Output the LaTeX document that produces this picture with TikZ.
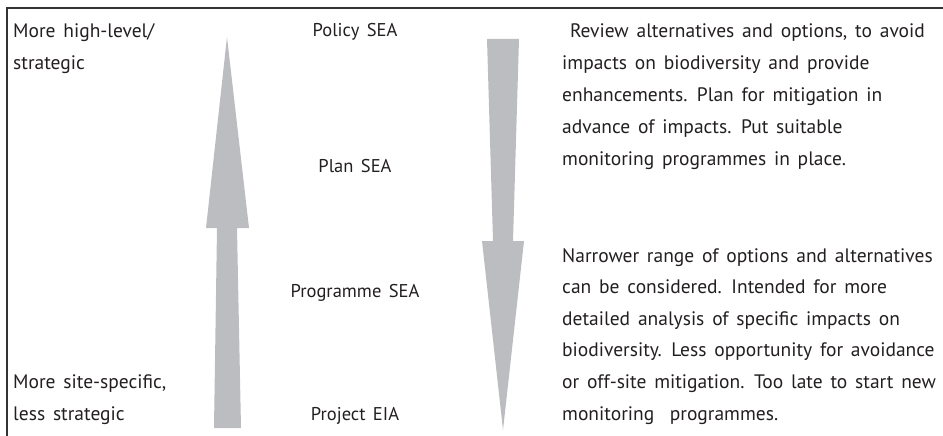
\documentclass[tikz,border=0pt]{standalone}
\usepackage{fontspec}
\setmainfont{PT Sans}[WordSpace=1.5]
\begin{document}
\begin{tikzpicture}[x=1pt,y=-1pt,
  lbl/.style={anchor=base west,inner sep=0pt,align=left,
    font=\fontsize{19.5}{32}\selectfont},
  mid/.style={anchor=base,inner sep=0pt,font=\fontsize{18.5}{20}\selectfont},
  bigarrow/.style={fill=arrowgray,draw=none},
  frame/.style={draw=framegray,line width=1.3pt}]
\definecolor{arrowgray}{HTML}{BCBDC0}
\definecolor{framegray}{HTML}{333333}
\definecolor{inkgray}{HTML}{231F20}
\useasboundingbox (0,0) rectangle (943,436);
% frame: top rule and left rule
\coordinate (fl) at (7,436);
\coordinate (fc) at (7,8);
\coordinate (fr) at (943,8);
\draw[frame] (fl) -- (fc) -- (fr);
% upward arrow
\fill[bigarrow] (214,428) -- (217,228) -- (206,228) -- (227,37)
  -- (249,228) -- (237,228) -- (241,428) -- cycle;
% downward arrow
\fill[bigarrow] (487,39) -- (519,39) -- (513,241) -- (524,241)
  -- (503,430) -- (482,241) -- (493,241) -- cycle;
\begin{scope}[every node/.append style={text=inkgray}]
% left column (anchored at the baseline of the last line)
\node[lbl] (top) at (13,70) {More high-level/\\strategic};
\node[lbl] (bot) at (13,420) {More site-specific,\\less strategic};
% middle column
\node[mid] (policy) at (355,37) {Policy SEA};
\node[mid] (plan) at (355,172) {Plan SEA};
\node[mid] (programme) at (355,297) {Programme SEA};
\node[mid] (project) at (355,420) {Project EIA};
% right column
\node[lbl] (early) at (562,165) {\ Review alternatives and options, to avoid\\impacts on biodiversity and provide\\enhancements. Plan for mitigation in\\advance of impacts. Put suitable\\monitoring programmes in place.};
\node[lbl,font=\fontsize{19.5}{31.6}\selectfont] (late) at (562,420) {Narrower range of options and alternatives\\can be considered. Intended for more\\detailed analysis of specific impacts on\\biodiversity. Less opportunity for avoidance\\or off-site mitigation. Too late to start new\\monitoring\ \ programmes.};
\end{scope}
\end{tikzpicture}
\end{document}
